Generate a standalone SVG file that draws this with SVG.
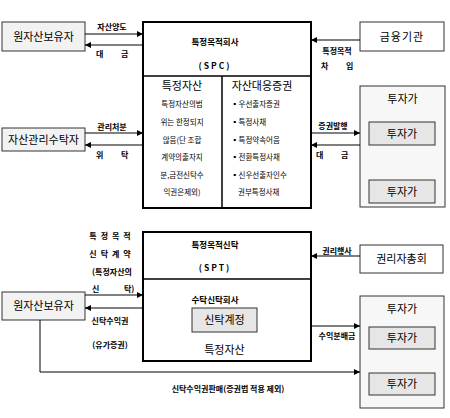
<svg xmlns="http://www.w3.org/2000/svg" width="450" height="418" viewBox="0 0 450 418">
<defs>
<marker id="ah" viewBox="0 0 6 6" refX="6" refY="3" markerWidth="6" markerHeight="6" markerUnits="userSpaceOnUse" orient="auto"><path d="M0,0 L6,3 L0,6 z" fill="#000"/></marker>
<style>
text{font-family:"Noto Sans CJK KR","Noto Sans",sans-serif;fill:#000}
.box{fill:#f2f2f2;stroke:#333;stroke-width:1}
.wbox{fill:#fff;stroke:#333;stroke-width:1}
.main{fill:#fff;stroke:#000;stroke-width:2}
.grp{fill:#f7f7f7;stroke:#333;stroke-width:1}
.inner{fill:#e6e6e6;stroke:#333;stroke-width:1}
.lbl{font-size:11px;text-anchor:middle}
.sm{font-size:8px;font-weight:bold}
.ttl{font-size:8.5px;font-weight:bold;text-anchor:middle}
.cell{font-size:7.5px;text-anchor:middle}
.cl{font-size:7.5px}
.ln{stroke:#000;stroke-width:1;fill:none}
.div{stroke:#000;stroke-width:1.5}
</style>
</defs>

<g id="spc">
<rect class="main" x="143" y="22" width="168" height="186"/>
<line class="div" x1="143" y1="76" x2="311" y2="76"/>
<line class="div" x1="222" y1="76" x2="222" y2="208"/>
<text class="ttl" x="215" y="45">특정목적회사</text>
<text class="ttl" x="215" y="69" letter-spacing="2">(SPC)</text>
<text class="lbl" x="182" y="90" font-size="10.5">특정자산</text>
<text class="cell" x="182" y="107">특정자산의범</text>
<text class="cell" x="182" y="125">위는 한정되지</text>
<text class="cell" x="182" y="143">않음(단 조합</text>
<text class="cell" x="182" y="160">계약의출자지</text>
<text class="cell" x="182" y="178">분,금전신탁수</text>
<text class="cell" x="182" y="195">익권은제외)</text>
<text class="lbl" x="262" y="90" font-size="10.5">자산대응증권</text>
<text class="cl" x="231" y="107">▪우선출자증권</text>
<text class="cl" x="231" y="125">▪특정사채</text>
<text class="cl" x="231" y="143">▪특정약속어음</text>
<text class="cl" x="231" y="160">▪전환특정사채</text>
<text class="cl" x="231" y="178">▪신우선출자인수</text>
<text class="cl" x="238" y="195">권부특정사채</text>
</g>

<g id="owner1">
<rect class="box" x="2" y="22" width="83" height="29"/>
<text class="lbl" x="43.5" y="40.5">원자산보유자</text>
</g>

<g id="trustee">
<rect class="box" x="2" y="128" width="83" height="23"/>
<text class="lbl" x="43.5" y="143.5">자산관리수탁자</text>
</g>

<g id="bank">
<rect class="wbox" x="360" y="22" width="84" height="29"/>
<text class="lbl" x="402" y="40.5" letter-spacing="1">금융기관</text>
</g>

<g id="investors1">
<rect class="grp" x="360" y="86" width="85" height="121"/>
<text class="lbl" x="402.5" y="103" font-size="10.5">투자가</text>
<rect class="inner" x="369" y="122" width="66" height="23"/>
<text class="lbl" x="402" y="137.5" font-size="10.5">투자가</text>
<rect class="inner" x="369" y="180" width="66" height="23"/>
<text class="lbl" x="402" y="195.5" font-size="10.5">투자가</text>
</g>

<g id="spt">
<rect class="main" x="143" y="232" width="168" height="129"/>
<line class="div" x1="143" y1="279" x2="311" y2="279"/>
<text class="ttl" x="215" y="248">특정목적신탁</text>
<text class="ttl" x="215" y="271" letter-spacing="2">(SPT)</text>
<text class="ttl" x="215" y="303">수탁신탁회사</text>
<rect class="inner" x="192" y="308" width="65" height="24"/>
<text class="lbl" x="224.5" y="324" font-size="10.5">신탁계정</text>
<text class="lbl" x="224.5" y="354" font-size="10.5">특정자산</text>
</g>

<g id="owner2">
<rect class="box" x="2" y="292" width="83" height="28"/>
<text class="lbl" x="43.5" y="310">원자산보유자</text>
</g>

<g id="holders">
<rect class="wbox" x="360" y="245" width="83" height="28"/>
<text class="lbl" x="401.5" y="263">권리자총회</text>
</g>

<g id="investors2">
<rect class="grp" x="360" y="296" width="84" height="112"/>
<text class="lbl" x="402" y="313" font-size="10.5">투자가</text>
<rect class="inner" x="369" y="327" width="66" height="22"/>
<text class="lbl" x="402" y="342" font-size="10.5">투자가</text>
<rect class="inner" x="369" y="373" width="66" height="22"/>
<text class="lbl" x="402" y="388" font-size="10.5">투자가</text>
</g>

<g id="connectors">
<line class="ln" x1="85" y1="34" x2="143" y2="34" marker-end="url(#ah)"/>
<line class="ln" x1="143" y1="45" x2="85" y2="45" marker-end="url(#ah)"/>
<line class="ln" x1="85" y1="133" x2="143" y2="133" marker-end="url(#ah)"/>
<line class="ln" x1="143" y1="145" x2="85" y2="145" marker-end="url(#ah)"/>
<line class="ln" x1="360" y1="40" x2="311" y2="40" marker-end="url(#ah)"/>
<line class="ln" x1="311" y1="133" x2="360" y2="133" marker-end="url(#ah)"/>
<line class="ln" x1="360" y1="145" x2="311" y2="145" marker-end="url(#ah)"/>
<line class="ln" x1="85" y1="295" x2="143" y2="295" marker-end="url(#ah)"/>
<line class="ln" x1="143" y1="308" x2="85" y2="308" marker-end="url(#ah)"/>
<line class="ln" x1="360" y1="256" x2="311" y2="256" marker-end="url(#ah)"/>
<line class="ln" x1="311" y1="326" x2="360" y2="326" marker-end="url(#ah)"/>
<polyline class="ln" points="40,320 40,372 360,372" marker-end="url(#ah)"/>

<text class="sm" x="112" y="30" text-anchor="middle">자산양도</text>
<text class="sm" x="96" y="57">대</text>
<text class="sm" x="121" y="57">금</text>
<text class="sm" x="112" y="130" text-anchor="middle">관리처분</text>
<text class="sm" x="96" y="158">위</text>
<text class="sm" x="121" y="158">탁</text>
<text class="sm" x="337" y="54" text-anchor="middle">특정목적</text>
<text class="sm" x="321" y="69">차</text>
<text class="sm" x="346" y="69">입</text>
<text class="sm" x="333" y="129" text-anchor="middle">증권발행</text>
<text class="sm" x="316" y="158">대</text>
<text class="sm" x="341" y="158">금</text>
<text class="sm" x="112" y="239" text-anchor="middle" letter-spacing="4">특정목적</text>
<text class="sm" x="112" y="257" text-anchor="middle" letter-spacing="4">신탁계약</text>
<text class="sm" x="112" y="275" text-anchor="middle">(특정자산의</text>
<text class="sm" x="92" y="292">신</text>
<text class="sm" x="124" y="292">탁)</text>
<text class="sm" x="337" y="254" text-anchor="middle">권리행사</text>
<text class="sm" x="110" y="324" text-anchor="middle">신탁수익권</text>
<text class="sm" x="110" y="348" text-anchor="middle">(유가증권)</text>
<text class="sm" x="337" y="339" text-anchor="middle">수익분배금</text>
<text class="sm" x="228" y="392" text-anchor="middle">신탁수익권판매(증권법 적용 제외)</text>
</g>
</svg>
